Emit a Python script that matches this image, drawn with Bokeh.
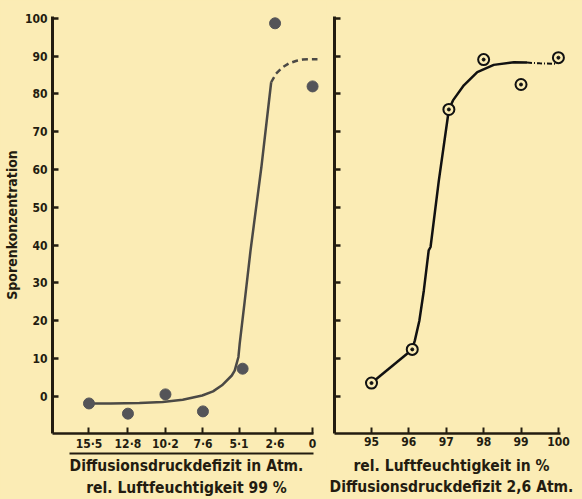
from bokeh.plotting import figure
from bokeh.layouts import row
from bokeh.models import Range1d, FixedTicker, LinearAxis
from bokeh.embed import file_html
from bokeh.resources import INLINE

# ---------------- data ----------------
# left panel: Diffusionsdruckdefizit (Atm.) vs Sporenkonzentration, rel. Luftfeuchtigkeit 99 %
dpd_ticks = [15.5, 12.8, 10.2, 7.6, 5.1, 2.6, 0]
dpd_tick_labels = ["15·5", "12·8", "10·2", "7·6", "5·1", "2·6", "0"]
dpd_points = [15.5, 12.8, 10.2, 7.6, 4.85, 2.6, 0.0]
spore_left = [-1.9, -4.6, 0.5, -4.0, 7.3, 98.7, 82.0]
curve_left_x = [15.5, 14.0, 12.0, 10.4, 9.0, 7.65, 6.9, 6.28, 5.6, 5.4, 5.14, 5.05, 4.71, 4.30, 3.55, 2.87]
curve_left_y = [-1.9, -1.9, -1.8, -1.5, -0.9, 0.2, 1.3, 2.9, 5.5, 6.8, 10.4, 14.0, 25.0, 38.6, 60.6, 83.1]
dash_left_x = [2.87, 2.53, 2.1, 1.64, 1.1, 0.68, 0.1, -0.34]
dash_left_y = [83.1, 85.4, 87.0, 88.1, 88.8, 89.1, 89.2, 89.2]

# right panel: rel. Luftfeuchtigkeit (%) vs Sporenkonzentration, DPD 2,6 Atm.
rh_ticks = [95, 96, 97, 98, 99, 100]
rh_points = [95.0, 96.09, 97.07, 98.0, 99.0, 100.0]
spore_right = [3.5, 12.4, 75.9, 89.1, 82.5, 89.6]
seg_right_x = [95.0, 96.09]
seg_right_y = [3.5, 12.4]
curve_right_x = [96.09, 96.16, 96.28, 96.40, 96.53, 96.58, 96.80, 97.07, 97.18, 97.47, 97.83, 98.27, 98.81, 99.16]
curve_right_y = [12.4, 14.8, 20.0, 28.0, 38.6, 39.5, 57.0, 75.9, 78.3, 82.3, 85.8, 87.7, 88.4, 88.3]
dash_right_x = [99.16, 99.5, 99.95]
dash_right_y = [88.3, 88.1, 88.0]

y_ticks = [0, 10, 20, 30, 40, 50, 60, 70, 80, 90, 100]

# ---------------- style ----------------
BG = "#fbecb5"
INK = "#231c10"
FONT = "DejaVu Sans Condensed"
TITLE_SIZE = "15.5px"

y_range_common = (-9.85, 100.5)


def style(p):
    p.background_fill_color = BG
    p.border_fill_color = BG
    p.outline_line_color = None
    p.xgrid.visible = False
    p.ygrid.visible = False
    for ax in (p.xaxis[0], p.yaxis[0]):
        ax.axis_line_color = INK
        ax.major_tick_line_color = INK
        ax.minor_tick_line_color = None
        ax.major_tick_out = 0
        ax.major_tick_in = 6
        ax.major_label_text_font = FONT
        ax.major_label_text_font_style = "bold"
        ax.major_label_text_font_size = "12px"
        ax.major_label_text_color = INK
    p.yaxis[0].axis_line_width = 3
    p.xaxis[0].axis_line_width = 2.5
    p.yaxis[0].major_tick_line_width = 2.5
    p.xaxis[0].major_tick_line_width = 2


def title_axis(label, standoff, line=False, bounds="auto"):
    ax = LinearAxis(ticker=FixedTicker(ticks=[]), axis_label=label,
                    axis_label_standoff=standoff,
                    axis_label_text_font=FONT, axis_label_text_font_style="bold",
                    axis_label_text_font_size=TITLE_SIZE, axis_label_text_color=INK,
                    major_tick_in=0, major_tick_out=0, minor_tick_in=0, minor_tick_out=0,
                    major_label_standoff=0,
                    major_tick_line_color=None, minor_tick_line_color=None,
                    axis_line_color=INK if line else None, axis_line_width=2,
                    bounds=bounds)
    return ax


# ---------------- left figure ----------------
p1 = figure(width=326, height=499, output_backend="svg", toolbar_location=None,
            x_range=Range1d(18.03, -0.55), y_range=Range1d(*y_range_common),
            min_border_left=48, min_border_right=6, min_border_top=16, min_border_bottom=66)
style(p1)
p1.xaxis.ticker = FixedTicker(ticks=dpd_ticks)
p1.xaxis.major_label_overrides = {t: s for t, s in zip(dpd_ticks, dpd_tick_labels)}
p1.xaxis.bounds = (-0.07, 18.03)
p1.xaxis.major_label_standoff = 3
p1.yaxis.ticker = FixedTicker(ticks=y_ticks)
p1.yaxis.major_label_standoff = 5
p1.yaxis.axis_label = "Sporenkonzentration"
p1.yaxis.axis_label_standoff = 2
p1.yaxis.axis_label_text_font = FONT
p1.yaxis.axis_label_text_font_style = "bold"
p1.yaxis.axis_label_text_font_size = "14px"
p1.yaxis.axis_label_text_color = INK

# ruled line with the first caption, then the second caption
p1.add_layout(title_axis("Diffusionsdruckdefizit in Atm.", 3, line=True, bounds=(-0.07, 16.87)), "below")
p1.add_layout(title_axis("rel. Luftfeuchtigkeit 99 %", 1), "below")

p1.line(curve_left_x, curve_left_y, line_color="#4b4945", line_width=2.5)
p1.line(dash_left_x, dash_left_y, line_color="#4b4945", line_width=2.5, line_dash="6 4")
p1.scatter(dpd_points, spore_left, size=11, fill_color="#545458", line_color="#545458")

# ---------------- right figure ----------------
p2 = figure(width=256, height=499, output_backend="svg", toolbar_location=None,
            x_range=Range1d(94.01, 100.27), y_range=Range1d(*y_range_common),
            min_border_left=8, min_border_right=14, min_border_top=16, min_border_bottom=66)
style(p2)
p2.xaxis.ticker = FixedTicker(ticks=rh_ticks)
p2.xaxis.bounds = (94.01, 100.05)
p2.xaxis.major_label_standoff = 3
p2.yaxis.ticker = FixedTicker(ticks=y_ticks)
p2.yaxis.major_label_overrides = {t: "" for t in y_ticks}
p2.yaxis.major_label_standoff = 0

p2.add_layout(title_axis("rel. Luftfeuchtigkeit in %", 8), "below")
p2.add_layout(title_axis("Diffusionsdruckdefizit 2,6 Atm.", 0), "below")

p2.line(seg_right_x, seg_right_y, line_color="#111111", line_width=2.5)
p2.line(curve_right_x, curve_right_y, line_color="#111111", line_width=2.5)
p2.line(dash_right_x, dash_right_y, line_color="#111111", line_width=2, line_dash="5 2 1 2")
p2.scatter(rh_points, spore_right, size=11, fill_color=BG, line_color="#111111", line_width=2)
p2.scatter(rh_points, spore_right, size=3, fill_color="#111111", line_color="#111111")

layout = row(p1, p2, styles={"background-color": BG})
open("out.html", "w").write(file_html(layout, INLINE))
